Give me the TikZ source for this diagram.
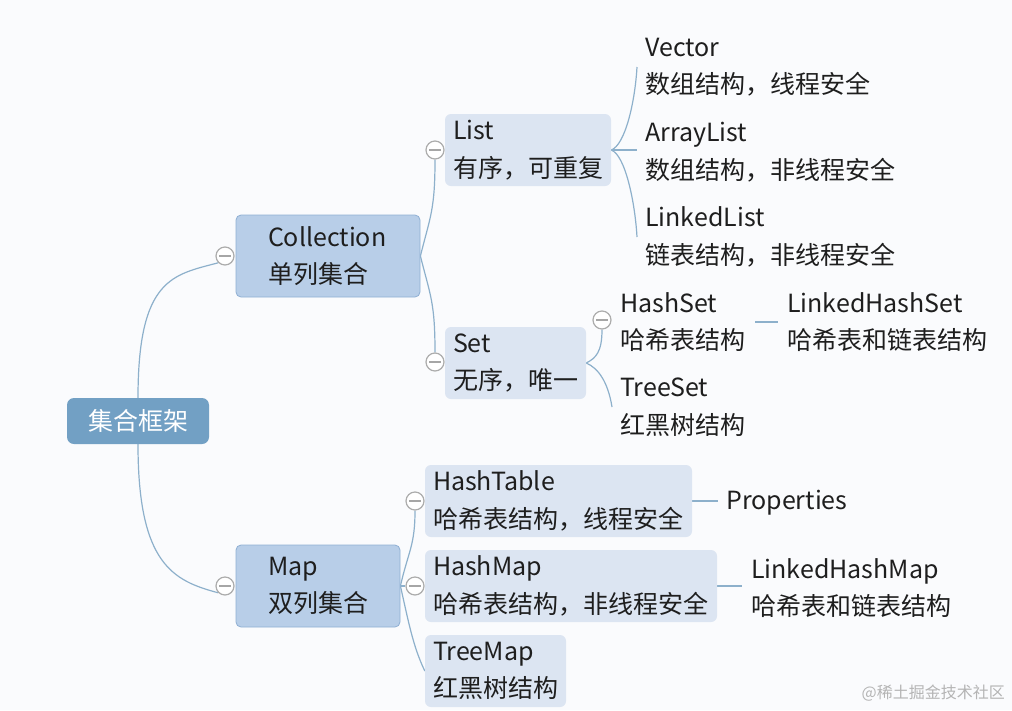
\documentclass[tikz,border=0pt]{standalone}
\usepackage{fontspec}
\setmainfont{Noto Sans CJK SC}
\definecolor{bg}{HTML}{FAFBFD}
\definecolor{lineC}{HTML}{8DB0CB}
\definecolor{rootC}{HTML}{72A0C4}
\definecolor{boxA}{HTML}{B8CEE8}
\definecolor{boxAd}{HTML}{8FAFD3}
\definecolor{boxB}{HTML}{DCE5F2}
\definecolor{txt}{HTML}{1E1E1E}
\definecolor{wm}{HTML}{B4B4B4}
\pgfdeclarelayer{paper}
\pgfdeclarelayer{background}
\pgfsetlayers{paper,background,main}
\tikzset{
  conn/.style={draw=lineC, line width=1.2pt},
  big/.style={font=\fontsize{25}{37.5}\selectfont},
  rootbox/.style={rounded corners=7pt, fill=rootC, draw=none, text=white, big,
    minimum width=142pt, minimum height=46pt, inner sep=0pt},
  boxone/.style={rounded corners=5pt, fill=boxA, draw=boxAd, line width=0.8pt,
    align=left, big, text=txt, inner xsep=0pt, inner ysep=0pt},
  boxtwo/.style={rounded corners=6pt, fill=boxB, draw=none,
    align=left, big, text=txt, inner xsep=0pt, inner ysep=0pt},
  leaf/.style={anchor=west, inner sep=0pt, align=left, big, text=txt},
  toggle/.style={circle, draw=gray!65, fill=white, line width=1.2pt,
    minimum size=18pt, inner sep=0pt,
    path picture={\draw[gray!70, line width=1.2pt]
      ([xshift=-6pt]path picture bounding box.center) --
      ([xshift=6pt]path picture bounding box.center);}}
}
\begin{document}
\begin{tikzpicture}[x=1pt,y=-1pt]
\begin{pgfonlayer}{paper}
\fill[bg] (0,0) rectangle (1012,710);
\end{pgfonlayer}
\useasboundingbox (0,0) rectangle (1012,710);

% main boxes
\node[rootbox] (root) at (138,421) {集合框架};
\node[boxone, minimum width=184pt, minimum height=82pt, text width=120pt] (coll) at (328,256) {Collection\\单列集合};
\node[boxone, minimum width=164pt, minimum height=82pt, text width=100pt] (map) at (318,586) {Map\\双列集合};

\node[boxtwo, minimum width=166pt, minimum height=72pt, text width=150pt] (list) at (528,150) {List\\有序，可重复};
\node[boxtwo, minimum width=141pt, minimum height=72pt, text width=125pt] (set) at (515.5,363) {Set\\无序，唯一};
\node[boxtwo, minimum width=267pt, minimum height=72pt, text width=251pt] (htab) at (558.5,501) {HashTable\\哈希表结构，线程安全};
\node[boxtwo, minimum width=292pt, minimum height=72pt, text width=276pt] (hmap) at (571,586) {HashMap\\哈希表结构，非线程安全};
\node[boxtwo, minimum width=141pt, minimum height=72pt, text width=125pt] (tmap) at (495.5,671) {TreeMap\\红黑树结构};

% leaves
\node[leaf] (vec) at (645,67) {Vector\\数组结构，线程安全};
\node[leaf] (al) at (645,152) {ArrayList\\数组结构，非线程安全};
\node[leaf] (ll) at (645,237) {LinkedList\\链表结构，非线程安全};
\node[leaf] (hs) at (620,322) {HashSet\\哈希表结构};
\node[leaf] (lhs) at (787,322) {LinkedHashSet\\哈希表和链表结构};
\node[leaf] (tset) at (620,407) {TreeSet\\红黑树结构};
\node[leaf] (prop) at (726,503) {Properties};
\node[leaf] (lhm) at (751,588) {LinkedHashMap\\哈希表和链表结构};

% toggles
\node[toggle] (tc) at (225,256) {};
\node[toggle] (tm) at (225,586) {};
\node[toggle] (tl) at (435,150) {};
\node[toggle] (ts) at (435,362) {};
\node[toggle] (ths) at (602,320) {};
\node[toggle] (tht) at (415,501) {};
\node[toggle] (thm) at (415,586) {};

% watermark
\node[anchor=east, inner sep=0pt, text=wm, font=\fontsize{16}{18}\selectfont] (wmk) at (1005,693) {@稀土掘金技术社区};

\begin{pgfonlayer}{background}
\draw[conn] (root.north) .. controls +(0,-120) and +(-45,12) .. (tc.south west);
\draw[conn] (root.south) .. controls +(0,120) and +(-45,-12) .. (tm.south west);
\draw[conn] (coll.east) .. controls +(10,-40) and +(0,50) .. (tl.south);
\draw[conn] (coll.east) .. controls +(10,40) and +(0,-50) .. (ts.north);
\draw[conn] (list.east) .. controls +(14,-5) and +(-2,35) .. ([xshift=-8pt]vec.west);
\draw[conn] (list.east) -- ([xshift=-8pt]list.east -| al.west);
\draw[conn] (list.east) .. controls +(14,5) and +(-2,-35) .. ([xshift=-8pt]ll.west);
\draw[conn] (set.east) .. controls +(10,-5) and +(0,22) .. (ths.south);
\draw[conn] (set.east) .. controls +(12,5) and +(-4,-25) .. ([xshift=-8pt]tset.west);
\draw[conn] ([xshift=10pt]hs.east) -- ([xshift=-9pt]lhs.west);
\draw[conn] (map.east) .. controls +(8,-35) and +(0,35) .. (tht.south);
\draw[conn] (map.east) -- (thm.west);
\draw[conn] (map.east) .. controls +(8,35) and +(-12,-25) .. (tmap.west);
\draw[conn] (htab.east) -- ([xshift=-8pt]htab.east -| prop.west);
\draw[conn] (hmap.east) -- ([xshift=-9pt]hmap.east -| lhm.west);
\end{pgfonlayer}
\end{tikzpicture}
\end{document}
